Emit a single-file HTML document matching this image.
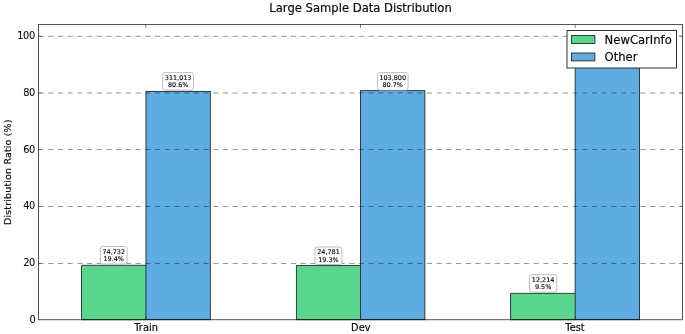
<!DOCTYPE html>
<html><head><meta charset="utf-8"><title>Large Sample Data Distribution</title>
<style>
html,body{margin:0;padding:0;background:#fff;}
body{width:685px;height:334px;overflow:hidden;}
svg{display:block;}
text{font-family:"DejaVu Sans","Liberation Sans",sans-serif;fill:#0a0a0a;stroke:#0a0a0a;stroke-width:0.18px;}
.t{font-size:11.6px;}
.k{font-size:9.8px;stroke-width:0.08px;}
.xk{font-size:9.8px;}
.a{font-size:6.45px;fill:#000;stroke:#000;stroke-width:0.12px;}
.yl{font-size:9.5px;}
</style></head><body>
<svg width="685" height="334" viewBox="0 0 685 334">
<rect x="0" y="0" width="685" height="334" fill="#fff"/>

<rect x="81.50" y="265.30" width="64.45" height="54.40" fill="#58D68D"/>
<path d="M145.95 319.70H81.50V265.30H145.95" fill="none" stroke="#151515" stroke-width="0.8"/>
<rect x="145.95" y="91.35" width="64.35" height="228.35" fill="#5DADE2" stroke="#151515" stroke-width="0.8"/>
<rect x="296.45" y="265.50" width="64.05" height="54.20" fill="#58D68D"/>
<path d="M360.50 319.70H296.45V265.50H360.50" fill="none" stroke="#151515" stroke-width="0.8"/>
<rect x="360.50" y="90.70" width="64.40" height="229.00" fill="#5DADE2" stroke="#151515" stroke-width="0.8"/>
<rect x="510.55" y="293.40" width="64.60" height="26.30" fill="#58D68D"/>
<path d="M575.15 319.70H510.55V293.40H575.15" fill="none" stroke="#151515" stroke-width="0.8"/>
<rect x="575.15" y="62.90" width="64.35" height="256.80" fill="#5DADE2" stroke="#151515" stroke-width="0.8"/>
<line x1="38.5" x2="682.5" y1="263.45" y2="263.45" stroke="#000" stroke-opacity="0.42" stroke-width="1" stroke-dasharray="5.1 4.61"/>
<line x1="38.5" x2="682.5" y1="206.50" y2="206.50" stroke="#000" stroke-opacity="0.42" stroke-width="1" stroke-dasharray="5.1 4.61"/>
<line x1="38.5" x2="682.5" y1="149.55" y2="149.55" stroke="#000" stroke-opacity="0.42" stroke-width="1" stroke-dasharray="5.1 4.61"/>
<line x1="38.5" x2="682.5" y1="93.00" y2="93.00" stroke="#000" stroke-opacity="0.42" stroke-width="1" stroke-dasharray="5.1 4.61"/>
<line x1="38.5" x2="682.5" y1="36.30" y2="36.30" stroke="#000" stroke-opacity="0.42" stroke-width="1" stroke-dasharray="5.1 4.61"/>
<line x1="145.80" x2="145.80" y1="24.5" y2="28.0" stroke="#333" stroke-width="0.6"/>
<line x1="145.80" x2="145.80" y1="319.7" y2="316.2" stroke="#333" stroke-width="0.6"/>
<line x1="360.50" x2="360.50" y1="24.5" y2="28.0" stroke="#333" stroke-width="0.6"/>
<line x1="360.50" x2="360.50" y1="319.7" y2="316.2" stroke="#333" stroke-width="0.6"/>
<line x1="575.20" x2="575.20" y1="24.5" y2="28.0" stroke="#333" stroke-width="0.6"/>
<line x1="575.20" x2="575.20" y1="319.7" y2="316.2" stroke="#333" stroke-width="0.6"/>
<line x1="38.5" x2="41.9" y1="263.45" y2="263.45" stroke="#505050" stroke-width="0.6"/>
<line x1="682.5" x2="679.1" y1="263.45" y2="263.45" stroke="#505050" stroke-width="0.6"/>
<line x1="38.5" x2="41.9" y1="206.50" y2="206.50" stroke="#505050" stroke-width="0.6"/>
<line x1="682.5" x2="679.1" y1="206.50" y2="206.50" stroke="#505050" stroke-width="0.6"/>
<line x1="38.5" x2="41.9" y1="149.55" y2="149.55" stroke="#505050" stroke-width="0.6"/>
<line x1="682.5" x2="679.1" y1="149.55" y2="149.55" stroke="#505050" stroke-width="0.6"/>
<line x1="38.5" x2="41.9" y1="93.00" y2="93.00" stroke="#505050" stroke-width="0.6"/>
<line x1="682.5" x2="679.1" y1="93.00" y2="93.00" stroke="#505050" stroke-width="0.6"/>
<line x1="38.5" x2="41.9" y1="36.30" y2="36.30" stroke="#505050" stroke-width="0.6"/>
<line x1="682.5" x2="679.1" y1="36.30" y2="36.30" stroke="#505050" stroke-width="0.6"/>
<rect x="38.5" y="24.5" width="644.0" height="295.2" fill="none" stroke="#000" stroke-opacity="0.68" stroke-width="1"/>
<rect x="100.32" y="246.50" width="26.80" height="17.5" rx="2.2" ry="2.2" fill="#fff" stroke="#b8b8b8" stroke-width="0.9"/>
<text class="a" text-anchor="middle" x="113.72" y="253.85">74,732</text>
<text class="a" text-anchor="middle" x="113.72" y="261.00">19.4%</text>
<rect x="162.78" y="72.60" width="30.70" height="17.5" rx="2.2" ry="2.2" fill="#fff" stroke="#b8b8b8" stroke-width="0.9"/>
<text class="a" text-anchor="middle" x="178.12" y="79.95">311,013</text>
<text class="a" text-anchor="middle" x="178.12" y="87.10">80.6%</text>
<rect x="315.08" y="247.00" width="26.80" height="17.5" rx="2.2" ry="2.2" fill="#fff" stroke="#b8b8b8" stroke-width="0.9"/>
<text class="a" text-anchor="middle" x="328.48" y="254.35">24,781</text>
<text class="a" text-anchor="middle" x="328.48" y="261.50">19.3%</text>
<rect x="377.35" y="72.60" width="30.70" height="17.5" rx="2.2" ry="2.2" fill="#fff" stroke="#b8b8b8" stroke-width="0.9"/>
<text class="a" text-anchor="middle" x="392.70" y="79.95">103,800</text>
<text class="a" text-anchor="middle" x="392.70" y="87.10">80.7%</text>
<rect x="529.45" y="274.60" width="27.30" height="17.5" rx="2.2" ry="2.2" fill="#fff" stroke="#b8b8b8" stroke-width="0.9"/>
<text class="a" text-anchor="middle" x="543.10" y="281.95">12,214</text>
<text class="a" text-anchor="middle" x="543.10" y="289.10">9.5%</text>
<rect x="591.98" y="44.10" width="30.70" height="17.5" rx="2.2" ry="2.2" fill="#fff" stroke="#b8b8b8" stroke-width="0.9"/>
<text class="a" text-anchor="middle" x="607.33" y="51.45">116,350</text>
<text class="a" text-anchor="middle" x="607.33" y="58.60">90.5%</text>
<rect x="567.0" y="30.5" width="109.5" height="37.5" fill="#fff" stroke="#333" stroke-width="1"/>
<rect x="571.4" y="35.6" width="23.5" height="7.9" fill="#58D68D" stroke="#151515" stroke-width="0.8"/>
<rect x="571.4" y="53.0" width="23.5" height="7.9" fill="#5DADE2" stroke="#151515" stroke-width="0.8"/>
<text class="t" x="604.6" y="43.8">NewCarInfo</text>
<text class="t" x="604.6" y="61.2">Other</text>
<text class="t" text-anchor="middle" x="360.5" y="12.25">Large Sample Data Distribution</text>
<text class="k" text-anchor="end" letter-spacing="-0.3" x="35.35" y="323">0</text>
<text class="k" text-anchor="end" letter-spacing="-0.3" x="35.0" y="266">20</text>
<text class="k" text-anchor="end" letter-spacing="-0.3" x="35.0" y="209">40</text>
<text class="k" text-anchor="end" letter-spacing="-0.3" x="35.0" y="153">60</text>
<text class="k" text-anchor="end" letter-spacing="-0.3" x="35.0" y="96">80</text>
<text class="k" text-anchor="end" letter-spacing="-0.3" x="35.0" y="39">100</text>
<text class="xk" text-anchor="middle" x="146.10" y="331.2">Train</text>
<text class="xk" text-anchor="middle" x="360.80" y="331.2">Dev</text>
<text class="xk" text-anchor="middle" x="575.00" y="331.2">Test</text>
<text class="yl" letter-spacing="0.15" text-anchor="middle" transform="translate(11.0,172.2) rotate(-90)">Distribution Ratio (%)</text>
</svg></body></html>
